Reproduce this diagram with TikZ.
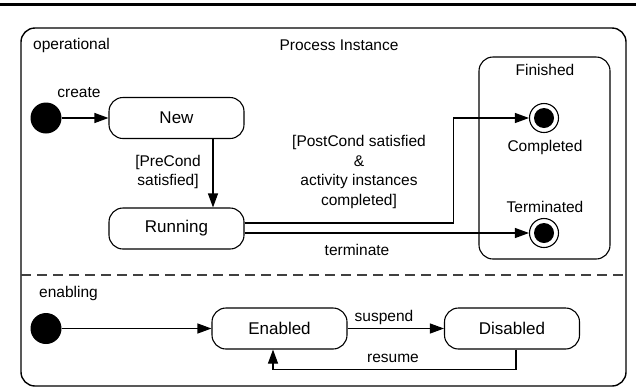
\documentclass[tikz,border=0pt]{standalone}
\usepackage{fontspec}
\setmainfont{Liberation Sans}
\usetikzlibrary{arrows.meta,calc}
\tikzset{
  statebox/.style={draw, line width=1.1pt, rounded corners=14pt, minimum width=135pt, minimum height=41pt, font=\fontsize{17}{20}\selectfont, inner sep=0pt},
  lbl/.style={font=\fontsize{15.5}{19.5}\selectfont, inner sep=0pt, align=center},
  initstate/.style={circle, fill=black, minimum size=31pt, inner sep=0pt},
  finalring/.style={circle, draw, line width=1.1pt, minimum size=29pt, inner sep=0pt},
  container/.style={draw, line width=1.4pt, rounded corners=14pt, inner sep=0pt},
  trans/.style={line width=1.1pt, -{Triangle[length=14pt,width=10pt]}},
  sep/.style={line width=1.3pt, dash pattern=on 10pt off 6pt, draw=black!75},
}
\begin{document}
\begin{tikzpicture}[x=1pt,y=-1pt]
\useasboundingbox (0,0) rectangle (636,389);
% top rule
\draw[line width=3pt] (0,4) -- (636,4);
% containers
\node[container, minimum width=605pt, minimum height=358pt] (outer) at (323.5,207) {};
\node[container, line width=1.1pt, minimum width=131pt, minimum height=202pt] (fin) at (544.5,158) {};
\draw[sep] (21,275) -- (626,275);
% region texts
\node[lbl, anchor=west] (opl) at (33,45) {operational};
\node[lbl] (title) at (339,45) {Process Instance};
\node[lbl] (finl) at (545,70) {Finished};
\node[lbl, anchor=west] (enl) at (39,293) {enabling};
% operational region
\node[initstate] (i1) at (46,118) {};
\node[statebox] (new) at (176.5,118) {New};
\node[statebox] (run) at (176.5,228.5) {Running};
\node[finalring] (comp) at (544,118) {};
\fill (comp) circle[radius=10pt];
\node[finalring] (term) at (544,233) {};
\fill (term) circle[radius=10pt];
\node[lbl] (compl) at (545,147) {Completed};
\node[lbl] (terml) at (545,207) {Terminated};
\draw[trans] (i1) -- (new);
\node[lbl] (createl) at (79,93) {create};
\draw[trans] ($(new.south)+(36.5,0)$) -- ($(run.north)+(36.5,0)$);
\node[lbl] (prel) at (168,172) {[PreCond\\satisfied]};
\draw[trans] ($(run.east)+(0,-5.5)$) -- ++(209,0) |- (comp.west);
\node[lbl] (postl) at (359,172) {[PostCond satisfied\\\&\\activity instances\\completed]};
\draw[trans] ($(run.east)+(0,4.5)$) -- (term.west);
\node[lbl] (terml2) at (357,250) {terminate};
% enabling region
\node[initstate] (i2) at (46,328.5) {};
\node[statebox] (en) at (279.5,328.5) {Enabled};
\node[statebox] (dis) at (512,328.5) {Disabled};
\draw[trans] (i2) -- (en);
\draw[trans] (en) -- (dis);
\node[lbl] (susl) at (384,317) {suspend};
\draw[trans] ($(dis.south)+(4,0)$) -- ++(0,20) -| ($(en.south)+(-6.5,0)$);
\node[lbl] (resl) at (393,358) {resume};
\end{tikzpicture}
\end{document}
